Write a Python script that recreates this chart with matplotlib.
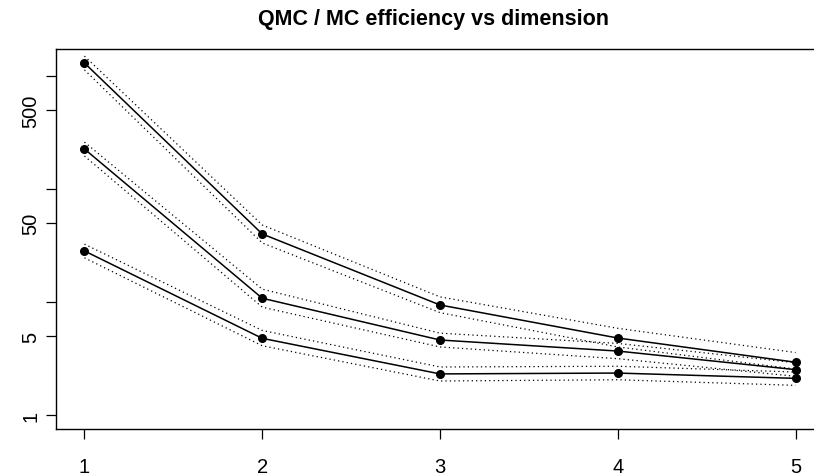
import matplotlib
matplotlib.use('Agg')
import matplotlib.pyplot as plt
from matplotlib.ticker import FixedLocator, FixedFormatter, NullLocator

# Data (log scale y)
dimension = [1, 2, 3, 4, 5]

eff_high = [1303, 40.0, 9.41, 4.80, 2.93]
eff_high_upper = [1500, 48.0, 11.1, 5.85, 3.57]
eff_high_lower = [1133, 33.3, 8.05, 4.0, 2.55]

eff_mid = [226, 10.8, 4.61, 3.68, 2.52]
eff_mid_upper = [260, 13.0, 5.3, 4.3, 2.9]
eff_mid_lower = [196, 9.0, 4.0, 3.15, 2.2]

eff_low = [28.3, 4.77, 2.31, 2.35, 2.11]
eff_low_upper = [32.5, 5.6, 2.66, 2.7, 2.4]
eff_low_lower = [24.6, 4.1, 2.0, 2.05, 1.83]

y_ticks = [1, 5, 10, 50, 100, 500, 1000]
y_tick_labels = ['1', '5', '', '50', '', '500', '']
x_ticks = [1, 2, 3, 4, 5]


def main():
    plt.rcParams['font.family'] = ['Liberation Sans', 'DejaVu Sans']

    fig = plt.figure(figsize=(8.14, 4.77), dpi=100)
    # R-style plot region; right edge runs past the figure like the reference
    ax = fig.add_axes([56 / 814, 1 - 430 / 477, 768 / 814, 380 / 477])

    series = [
        (eff_high, eff_high_upper, eff_high_lower),
        (eff_mid, eff_mid_upper, eff_mid_lower),
        (eff_low, eff_low_upper, eff_low_lower),
    ]
    for mid, up, lo in series:
        ax.plot(dimension, up, color='black', linestyle=(0, (1, 2.5)), linewidth=0.9)
        ax.plot(dimension, lo, color='black', linestyle=(0, (1, 2.5)), linewidth=0.9)
        ax.plot(dimension, mid, color='black', linewidth=1.1, marker='o',
                markersize=5.5, markerfacecolor='black', markeredgecolor='black')

    ax.set_yscale('log')
    ax.set_xlim(0.84, 5.16)
    ax.set_ylim(10 ** (-14 / 113), 10 ** (366 / 113))

    ax.yaxis.set_major_locator(FixedLocator(y_ticks))
    ax.yaxis.set_major_formatter(FixedFormatter(y_tick_labels))
    ax.yaxis.set_minor_locator(NullLocator())
    ax.set_xticks(x_ticks)
    ax.set_xticklabels([str(v) for v in x_ticks])

    ax.tick_params(axis='both', direction='out', length=7, width=0.9,
                   labelsize=14.5, colors='black')
    ax.tick_params(axis='x', pad=13)
    ax.tick_params(axis='y', pad=4, labelrotation=90)
    for lab in ax.get_yticklabels():
        lab.set_va('center')

    for sp in ax.spines.values():
        sp.set_linewidth(1.0)
        sp.set_color('black')
    ax.spines['right'].set_visible(False)

    fig.text(434 / 814, 1 - 19 / 477, 'QMC / MC efficiency vs dimension',
             ha='center', va='center', fontsize=15.5, fontweight='bold')

    fig.savefig('out.png', dpi=100)
    print("Plot saved to out.png")


if __name__ == "__main__":
    main()
